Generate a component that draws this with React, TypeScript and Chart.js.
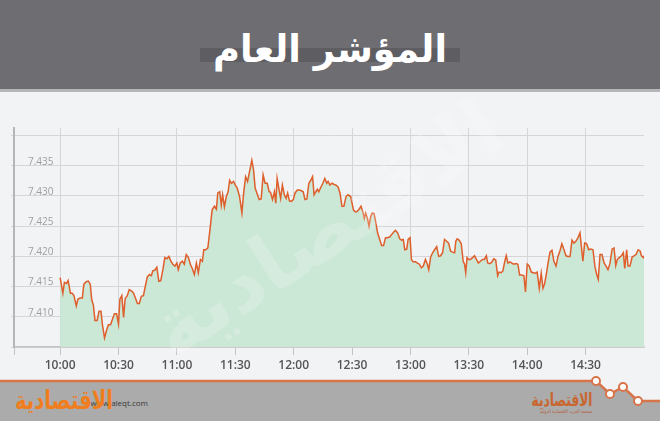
import React, { useEffect, useRef } from "react";
import { Chart, registerables } from "chart.js";

Chart.register(...registerables);

const title = "المؤشر العام";
const brand = "الاقتصادية";
const brandUrl = "www.aleqt.com";
const brandSub = "صحيفة العرب الاقتصادية الدولية";

// minutes after 10:00
const timeTicks = [0, 30, 60, 90, 120, 150, 180, 210, 240, 270];
const timeLabels = ["10:00", "10:30", "11:00", "11:30", "12:00", "12:30", "13:00", "13:30", "14:00", "14:30"];
const yTicks = [7.405, 7.41, 7.415, 7.42, 7.425, 7.43, 7.435, 7.44];
const yLabels = ["", "7.410", "7.415", "7.420", "7.425", "7.430", "7.435", ""];

const minutes = [
  0, 1.4, 2.2, 3.3, 4.1, 5.3, 6.2, 7.1, 8.3, 9.1, 10.2, 11.4, 12.2, 13.4, 14.5, 15.5, 16.2, 17.1, 17.9, 19,
  20, 21, 21.7, 22.8, 23.8, 24.8, 25.9, 26.9, 27.9, 29, 30, 30.7, 31.7, 32.6, 33.4, 34.5, 35.5, 36.6, 37.6, 38.6,
  39.7, 40.7, 41.7, 42.8, 43.8, 44.8, 45.9, 46.9, 47.6, 48.6, 49.7, 50.7, 51.7, 52.8, 53.8, 54.8, 55.9, 56.9, 57.9, 59,
  60, 60.7, 61.7, 62.8, 63.8, 64.8, 65.9, 66.9, 67.9, 69, 70, 71, 72.1, 73.1, 73.8, 74.8, 75.9,
  77.2, 78.1, 79.3, 80.3, 81, 82, 82.8, 83.5, 84.4, 85.4, 86.3, 87.1, 88, 89.1, 90, 91, 92.2, 93.4, 94.3, 95.3,
  96.3, 96.8, 97.7, 98.5, 99.4, 100.2, 101.4, 102.3, 103.3, 104.3, 105.3, 106.4, 107.4, 108.1, 109.1, 110.1, 110.8, 111.5, 112.5, 113.3,
  114.2, 115.2, 116.1, 116.9, 117.8, 118.8, 119.8, 120.7, 121.9, 122.7, 123.7, 124.9, 125.8, 126.8, 127.8, 128.8, 129.7, 130.5, 131.4, 132.2,
  132.9, 133.9, 135, 136, 137, 137.7, 138.6, 139.7, 140.8, 141.8, 142.8, 143.8, 144.8, 145.8, 146.9, 147.9, 149.3,
  150.7, 151.6, 152.4, 153.6, 154.6, 155.5, 156.3, 157, 157.9, 158.7, 159.6, 160.4, 161.3, 162.1, 163.1, 164.2, 165.2, 166.2, 167.2, 168.2,
  169.3, 170.3, 171.3, 172.3, 173.4, 174.5, 175.4, 176.3, 177.1, 178.1, 178.8, 179.8, 180.5, 181.4, 182.6, 183.6, 184.6, 185.6, 186.6, 187.7,
  188.7, 189.4, 190.4, 191.4, 192.4, 193.5, 194.5, 195.5, 196.5, 197.5, 198.6, 199.6, 200.6, 201.6, 202.7, 203.3, 204, 205, 206.1, 207.1,
  207.8, 208.4, 209.1, 209.8, 210.8, 211.9, 212.9, 213.9, 214.9, 215.9, 217, 218, 219, 219.7, 220.7, 221.7, 222.8, 223.8, 224.8, 225.5,
  226.6, 227.5, 228.3, 229.2, 230.1, 231.1, 232.1, 233.1, 234.2, 235.2, 236.1, 237.3, 238.3, 239.1, 240, 241, 242.1, 243.1, 244.1, 245.1,
  246.2, 247.2, 248.1, 248.9, 249.8, 250.6, 251.7, 252.7, 253.7, 254.8, 255.8, 256.8, 257.8, 258.9, 259.9, 260.9, 262, 263, 264, 265,
  266.1, 267.1, 267.8, 268.6, 269.5, 270.5, 271.6, 272.6, 273.8, 274.8, 275.7, 276.5, 277.4, 278.4, 279.5, 280.5, 281.5, 282.5, 283.6, 284.6,
  285.5, 286.3, 287.3, 288.4, 289.4, 290.1, 291.1, 291.8, 292.8, 293.9, 294.9, 295.9, 297, 298, 298.7, 299.7, 300,
];

const values = [
  7.4165, 7.4139, 7.4157, 7.4155, 7.416, 7.4139, 7.4139, 7.4135, 7.4118, 7.4129, 7.4131, 7.4131, 7.4154, 7.4158, 7.4159, 7.4154, 7.4129, 7.4119, 7.4094, 7.4094,
  7.4109, 7.4109, 7.4088, 7.4065, 7.4077, 7.4087, 7.4087, 7.4096, 7.4105, 7.4105, 7.4088, 7.4129, 7.4135, 7.4099, 7.413, 7.4135, 7.4145, 7.4143, 7.414, 7.4132,
  7.4122, 7.4122, 7.4134, 7.4135, 7.4151, 7.4166, 7.417, 7.4168, 7.4176, 7.4177, 7.4182, 7.4159, 7.416, 7.4178, 7.4198, 7.4196, 7.42, 7.4192, 7.4187, 7.4184,
  7.4189, 7.4178, 7.4189, 7.4192, 7.4187, 7.4203, 7.4198, 7.4187, 7.418, 7.417, 7.4189, 7.4173, 7.4195, 7.4192, 7.4211, 7.4211, 7.4214,
  7.425, 7.4277, 7.4283, 7.4278, 7.4305, 7.4307, 7.4285, 7.4302, 7.4282, 7.4299, 7.4307, 7.4326, 7.4321, 7.4324, 7.4318, 7.4313, 7.4299, 7.4272, 7.4305, 7.4332,
  7.4324, 7.4332, 7.4346, 7.4359, 7.4343, 7.4313, 7.4302, 7.4294, 7.4295, 7.4335, 7.4321, 7.4321, 7.4307, 7.4306, 7.4294, 7.4307, 7.4288, 7.4329, 7.431, 7.4296,
  7.4318, 7.4302, 7.4296, 7.4305, 7.4292, 7.4291, 7.4294, 7.4305, 7.431, 7.431, 7.4309, 7.4307, 7.4294, 7.4295, 7.4321, 7.4326, 7.4332, 7.4302, 7.4307, 7.4311,
  7.4307, 7.4314, 7.4321, 7.4329, 7.4321, 7.4324, 7.4318, 7.4321, 7.4319, 7.4318, 7.4315, 7.4305, 7.4283, 7.4283, 7.4299, 7.4302, 7.4299,
  7.4277, 7.4274, 7.4274, 7.4278, 7.4283, 7.4274, 7.4263, 7.4272, 7.4263, 7.425, 7.4266, 7.4272, 7.4271, 7.4258, 7.4239, 7.4228, 7.4218, 7.4218, 7.4231, 7.4231,
  7.4232, 7.4236, 7.424, 7.4243, 7.4239, 7.4229, 7.4227, 7.4228, 7.4211, 7.4212, 7.4228, 7.4231, 7.4195, 7.4191, 7.4191, 7.4189, 7.4187, 7.4181, 7.4184, 7.4195,
  7.4187, 7.4178, 7.4199, 7.4206, 7.4211, 7.4216, 7.42, 7.4201, 7.4206, 7.4228, 7.4225, 7.4222, 7.4209, 7.4207, 7.4206, 7.4225, 7.4229, 7.4227, 7.4221, 7.4192,
  7.4187, 7.4173, 7.4198, 7.4195, 7.4195, 7.4198, 7.4201, 7.4195, 7.4189, 7.4192, 7.4195, 7.4195, 7.4201, 7.4189, 7.4188, 7.419, 7.4196, 7.4194, 7.4168, 7.4174,
  7.4173, 7.4176, 7.4189, 7.4201, 7.4189, 7.4191, 7.4189, 7.4187, 7.4188, 7.4187, 7.4169, 7.4169, 7.4168, 7.4141, 7.4187, 7.4184, 7.4174, 7.4173, 7.4172, 7.4174,
  7.4147, 7.4172, 7.4147, 7.4154, 7.417, 7.4187, 7.4207, 7.421, 7.4192, 7.4184, 7.42, 7.4209, 7.4221, 7.4211, 7.4201, 7.42, 7.42, 7.4227, 7.4222, 7.4225,
  7.4231, 7.4239, 7.4217, 7.4192, 7.4222, 7.4221, 7.4211, 7.4212, 7.4211, 7.4183, 7.417, 7.4162, 7.4203, 7.4203, 7.4189, 7.4184, 7.4178, 7.4188, 7.4212, 7.4214,
  7.4185, 7.4195, 7.4198, 7.4201, 7.4206, 7.418, 7.4211, 7.4184, 7.4184, 7.4199, 7.4201, 7.4203, 7.4211, 7.4209, 7.4201, 7.4198, 7.4201,
];

const X_MIN = -23.7;
const X_MAX = 300;
const Y_MIN = 7.405;
const Y_MAX = 7.44125;

export default function App() {
  const ref = useRef<HTMLCanvasElement>(null);

  useEffect(() => {
    document.body.style.margin = "0";
    const canvas = ref.current;
    if (!canvas) return;
    const chart = new Chart(canvas, {
      type: "line",
      data: {
        datasets: [
          {
            data: minutes.map((m, i) => ({ x: m, y: values[i] })),
            borderColor: "#de5f2b",
            borderWidth: 1.5,
            backgroundColor: "#cbe7d6",
            fill: "start",
            pointRadius: 0,
            tension: 0,
          },
        ],
      },
      options: {
        animation: false,
        responsive: false,
        devicePixelRatio: 1,
        layout: { padding: { left: 0, right: 16, top: 36, bottom: 0 } },
        plugins: { legend: { display: false }, tooltip: { enabled: false } },
        scales: {
          x: {
            type: "linear",
            min: X_MIN,
            max: X_MAX,
            afterBuildTicks: (s: any) => {
              s.ticks = [{ value: X_MIN }, ...timeTicks.map((v) => ({ value: v }))];
            },
            afterFit: (s: any) => {
              s.height = 33;
            },
            grid: { color: "#d6d6d8", lineWidth: 1, tickLength: 8, tickColor: "#c4c4c6" },
            border: { color: "#c2c2c4", width: 1.5 },
            ticks: {
              autoSkip: false,
              maxRotation: 0,
              padding: 3,
              color: "#555555",
              font: { family: "'Open Sans'", size: 12, weight: "600" },
              callback: (v: any) => {
                const i = timeTicks.indexOf(Number(v));
                return i >= 0 ? timeLabels[i] : "";
              },
            },
          },
          y: {
            min: Y_MIN,
            max: Y_MAX,
            afterBuildTicks: (s: any) => {
              s.ticks = yTicks.map((v) => ({ value: v }));
            },
            afterFit: (s: any) => {
              s.width = 14;
            },
            grid: { color: "#d6d6d8", lineWidth: 1, tickLength: 3, tickColor: "#d6d6d8" },
            border: { color: "#b6b6b8", width: 2 },
            ticks: {
              mirror: true,
              padding: 14,
              labelOffset: -4,
              color: "#9e9e9e",
              font: { family: "'Open Sans'", size: 10 },
              callback: (_v: any, i: number) => yLabels[i],
            },
          },
        },
      },
    });
    return () => chart.destroy();
  }, []);

  return (
    <div style={{ position: "relative", width: 660, height: 421, background: "#f2f3f5", overflow: "hidden" }}>
      <svg width={660} height={421} style={{ position: "absolute", left: 0, top: 0 }}>
        <rect x={0} y={0} width={660} height={89} fill="#6e6d72" />
        <rect x={0} y={89} width={660} height={3} fill="#b6b6b8" />
        <rect x={200} y={48} width={260} height={14} fill="#5e5d62" />
        <text
          x={330}
          y={62}
          textAnchor="middle"
          direction="rtl"
          fontFamily="'DejaVu Sans'"
          fontWeight="bold"
          fontSize={38}
          fill="#ffffff"
          textLength={234}
          lengthAdjust="spacingAndGlyphs"
        >
          {title}
        </text>
        <polygon points="0,381 596,381 610,394 623,387 638,401 660,401 660,421 0,421" fill="#ababab" />
        <polyline points="0,381 596,381 610,394 623,387 638,401 660,401" fill="none" stroke="#d8744a" strokeWidth={2.5} />
        {[
          [596, 381],
          [610, 394],
          [623, 387],
          [638, 401],
        ].map(([cx, cy], i) => (
          <circle key={i} cx={cx} cy={cy} r={4} fill="#ffffff" stroke="#d8744a" strokeWidth={2} />
        ))}
        <text x={148} y={406} textAnchor="end" fontFamily="'Open Sans'" fontSize={8} fill="#3a3a3a">
          {brandUrl}
        </text>
        <text
          x={64}
          y={409}
          textAnchor="middle"
          direction="rtl"
          fontFamily="'DejaVu Sans'"
          fontWeight="bold"
          fontSize={26}
          fill="#f07d1e"
          textLength={98}
          lengthAdjust="spacingAndGlyphs"
        >
          {brand}
        </text>
        <text
          x={562}
          y={406}
          textAnchor="middle"
          direction="rtl"
          fontFamily="'DejaVu Sans'"
          fontWeight="bold"
          fontSize={18}
          fill="#c9652f"
          textLength={61}
          lengthAdjust="spacingAndGlyphs"
        >
          {brand}
        </text>
        <text
          x={566}
          y={413}
          textAnchor="middle"
          direction="rtl"
          fontFamily="'DejaVu Sans'"
          fontSize={5}
          fill="#b5603a"
          textLength={52}
          lengthAdjust="spacingAndGlyphs"
        >
          {brandSub}
        </text>
      </svg>
      <canvas ref={ref} width={660} height={288} style={{ position: "absolute", left: 0, top: 92, width: 660, height: 288 }} />
      <svg width={660} height={421} style={{ position: "absolute", left: 0, top: 0, pointerEvents: "none" }}>
        <text
          x={330}
          y={255}
          textAnchor="middle"
          direction="rtl"
          fontFamily="'DejaVu Sans'"
          fontWeight="bold"
          fontSize={80}
          fill="#ffffff"
          opacity={0.2}
          transform="rotate(-33 330 235)"
        >
          {brand}
        </text>
      </svg>
    </div>
  );
}
